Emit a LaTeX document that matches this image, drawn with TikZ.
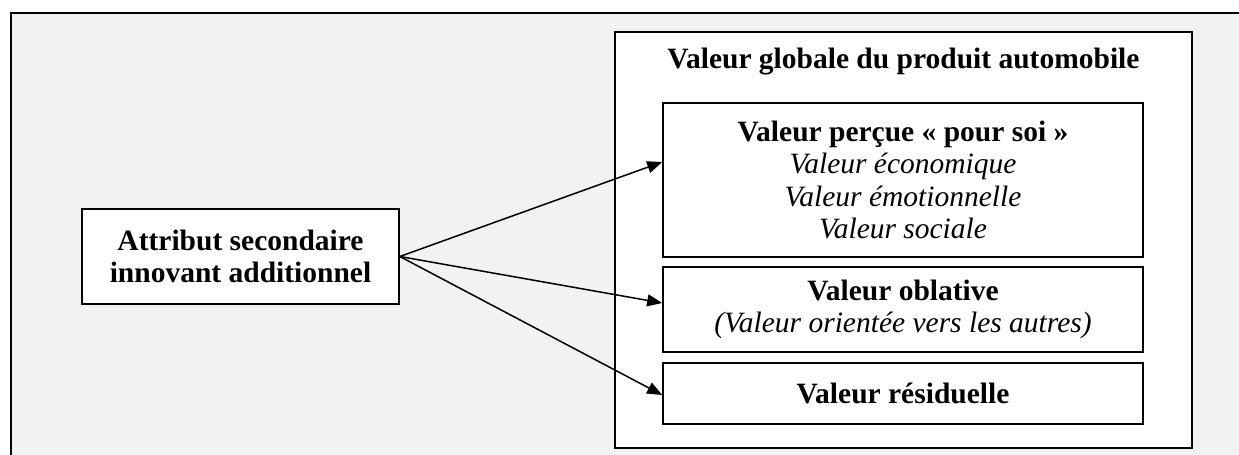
\documentclass[tikz,border=0pt]{standalone}
\usepackage{fontspec}
\setmainfont{Liberation Serif}
\usetikzlibrary{arrows.meta}
\definecolor{bggray}{HTML}{F2F2F2}
\tikzstyle{every node}=[font=\fontsize{14.75}{16.25}\selectfont]
\tikzstyle{block} = [rectangle, draw, fill=white, line width=0.8pt, align=center, inner sep=0pt]
\tikzstyle{line} = [draw, line width=0.75pt, -{Triangle[length=7.5pt,width=6pt]}]

\begin{document}
\begin{tikzpicture}[x=0.5pt,y=-0.5pt]
    \useasboundingbox (0,0) rectangle (1239,455);
    % Frame
    \begin{scope}
        \clip (0,0) rectangle (1239,455);
        \draw [line width=1.25pt, fill=bggray] (11,13) rectangle (1270,490);
    \end{scope}
    % Place nodes
    \node [block, line width=0.9pt, minimum width=288.5pt, minimum height=208pt] (global) at (903.5,240) {};
    \node [font=\fontsize{14.75}{16.25}\selectfont\bfseries] (title) at (903.5,62) {Valeur globale du produit automobile};
    \node [block, minimum width=240pt, minimum height=77pt] (soi) at (903,180)
        {\textbf{Valeur perçue « pour soi »}\\ \textit{Valeur économique}\\ \textit{Valeur émotionnelle}\\ \textit{Valeur sociale}};
    \node [block, minimum width=240pt, minimum height=42.5pt] (oblative) at (903,309.5)
        {\textbf{Valeur oblative}\\ \textit{(Valeur orientée vers les autres)}};
    \node [block, minimum width=240pt, minimum height=30.5pt] (residuelle) at (903,393.5)
        {\textbf{Valeur résiduelle}};
    \node [block, minimum width=158.5pt, minimum height=47.5pt] (attribut) at (240.5,256.5)
        {\textbf{Attribut secondaire}\\ \textbf{innovant additionnel}};
    % Draw edges
    \path [line] (attribut.east) -- ([yshift=9pt]soi.west);
    \path [line] (attribut.east) -- ([yshift=3.25pt]oblative.west);
    \path [line] (attribut.east) -- ([yshift=-0.75pt]residuelle.west);
\end{tikzpicture}
\end{document}
